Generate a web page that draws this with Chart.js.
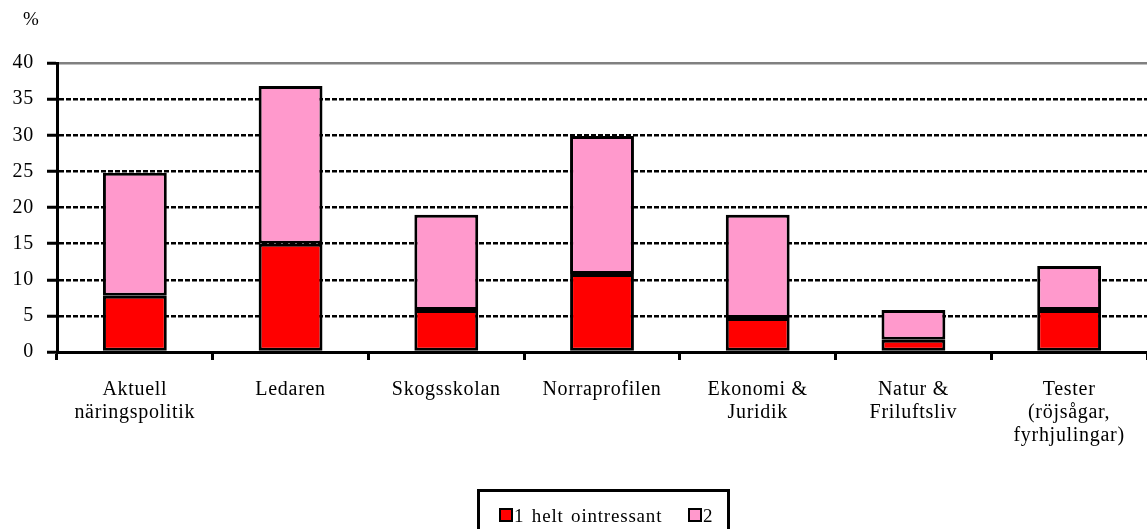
<!DOCTYPE html>
<html>
<head>
<meta charset="utf-8">
<script src="https://cdn.jsdelivr.net/npm/chart.js@4/dist/chart.umd.min.js"></script>
<style>
  html, body { margin: 0; padding: 0; background: #fff; overflow: hidden; }
  #wrap { position: relative; width: 1147px; height: 529px; font-family: 'Liberation Serif', 'Times New Roman', serif; }
  #unit { position: absolute; left: 23px; top: 8px; font-size: 19px; }
  #legend { position: absolute; left: 477px; top: 489px; width: 247px; height: 50px; border: 3px solid #000; font-size: 19px; }
  .item { position: absolute; top: 13px; white-space: nowrap; word-spacing: 2px; letter-spacing: 0.8px; }
  .sw { display: inline-block; width: 10px; height: 10px; border: 2.5px solid #000; vertical-align: 0px; margin-right: 1px; }
</style>
</head>
<body>
<div id="wrap">
  <canvas id="c" width="1147" height="529"></canvas>
  <div id="unit">%</div>
  <div id="legend"></div>
</div>
<script>
const categories = [
  ['Aktuell', 'näringspolitik'],
  'Ledaren',
  'Skogsskolan',
  'Norraprofilen',
  ['Ekonomi &', 'Juridik'],
  ['Natur &', 'Friluftsliv'],
  ['Tester', '(röjsågar,', 'fyrhjulingar)']
];
const seriesNames = ['1 helt ointressant', '2'];
const helt = [7.8, 15, 5.8, 10.8, 4.7, 1.7, 5.8];
const two = [17, 21.8, 13.2, 19.1, 14.3, 4.1, 6.1];
const colors = ['#ff0000', '#ff99cc'];

// the original text is set a little wider than Liberation Serif
const spacing = {
  id: 'spacing',
  beforeDraw(c) { c.ctx.letterSpacing = '0.7px'; }
};

const ctx = document.getElementById('c').getContext('2d');
const chart = new Chart(ctx, {
  type: 'bar',
  data: {
    labels: categories,
    datasets: [helt, two].map((d, i) => ({
      label: seriesNames[i],
      data: d,
      backgroundColor: colors[i],
      borderColor: '#000',
      borderWidth: 3,
      borderSkipped: false,
      categoryPercentage: 1,
      barPercentage: 0.41
    }))
  },
  options: {
    responsive: false,
    animation: false,
    layout: { padding: { top: 63, right: 0, left: 0, bottom: 0 } },
    plugins: { legend: { display: false }, tooltip: { enabled: false } },
    scales: {
      x: {
        stacked: true,
        afterFit: s => { s.height = 177; },
        grid: { offset: true, drawOnChartArea: false, tickLength: 8, tickWidth: 3, tickColor: '#000' },
        border: { color: '#000', width: 3 },
        ticks: { color: '#000', padding: 18, font: { family: "'Liberation Serif'", size: 20, lineHeight: 1.15 }, maxRotation: 0, autoSkip: false }
      },
      y: {
        stacked: true,
        min: 0, max: 40,
        afterFit: s => { s.width = 57; },
        grid: {
          color: c => c.tick && c.tick.value === 40 ? '#808080' : '#000',
          lineWidth: 2.5,
          tickLength: 10, tickWidth: 3, tickColor: '#000'
        },
        border: { color: '#000', width: 3, dash: c => c.tick && c.tick.value === 40 ? [] : [5, 2] },
        ticks: { stepSize: 5, color: '#000', padding: 13, font: { family: "'Liberation Serif'", size: 20 } }
      }
    }
  },
  plugins: [spacing]
});

const legend = document.getElementById('legend');
const pos = [19, 208];
seriesNames.forEach((n, i) => {
  const el = document.createElement('div');
  el.className = 'item';
  el.style.left = pos[i] + 'px';
  el.innerHTML = '<span class="sw" style="background:' + colors[i] + '"></span>' + n;
  legend.appendChild(el);
});
</script>
</body>
</html>
